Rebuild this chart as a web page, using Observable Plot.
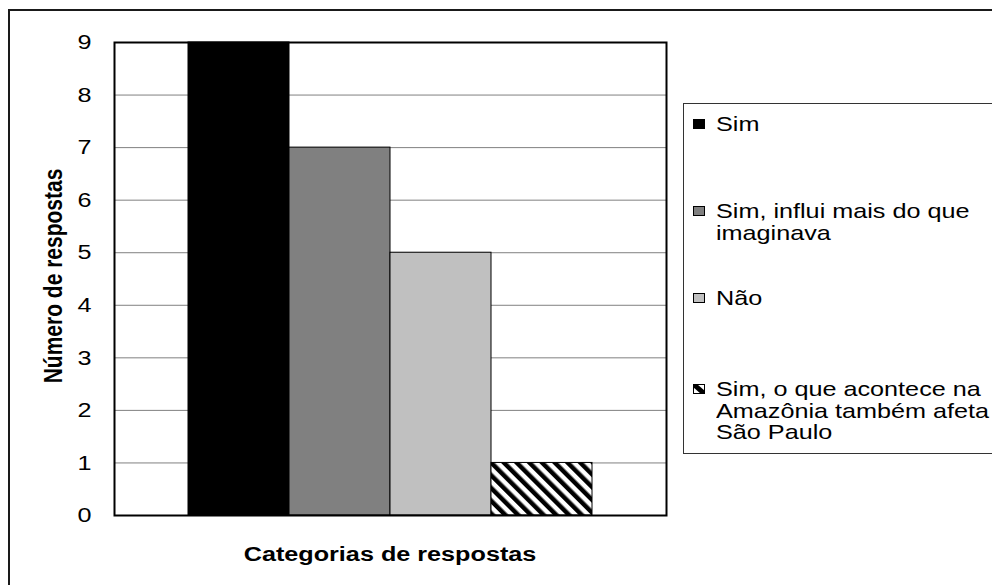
<!DOCTYPE html>
<html>
<head>
<meta charset="utf-8">
<script src="https://cdn.jsdelivr.net/npm/d3@7"></script>
<script src="https://cdn.jsdelivr.net/npm/@observablehq/plot@0.6"></script>
<style>
  html, body { margin: 0; padding: 0; background: #fff; overflow: hidden; width: 992px; height: 585px; }
  #wrap { position: relative; width: 992px; height: 585px; overflow: hidden; font-family: "Liberation Sans", Arial, sans-serif; color: #000; }
  #outer { position: absolute; left: 8px; top: 9px; width: 1010px; height: 620px; border: 2px solid #1a1a1a; box-sizing: border-box; }
  #chart { position: absolute; left: 0; top: 0; }
  #legend { position: absolute; left: 683px; top: 103px; width: 340px; height: 351px; border: 1.5px solid #333; box-sizing: border-box; background: #fff; }
  .item { position: absolute; left: 0; width: 330px; }
  .sw { position: absolute; left: 9px; top: 6px; width: 12px; height: 10px; box-sizing: border-box; border: 1px solid #000; }
  .lab { position: absolute; left: 32px; top: 0; width: 240px; font-size: 21px; line-height: 21.5px; transform: scaleX(1.2); transform-origin: 0 0; white-space: normal; }
</style>
</head>
<body>
<div id="wrap">
  <div id="outer"></div>
  <div id="chart"></div>
  <div id="legend"></div>
</div>
<script>
// ---- data ----
const categories = [
  "Sim",
  "Sim, influi mais do que imaginava",
  "Não",
  "Sim, o que acontece na Amazônia também afeta São Paulo"
];
const values = [9, 7, 5, 1];
const yTicks = [0, 1, 2, 3, 4, 5, 6, 7, 8, 9];
const fills = ["#000000", "#808080", "#c0c0c0", "url(#hatch)"];
const xTitle = "Categorias de respostas";
const yTitle = "Número de respostas";

const data = categories.map((c, i) => ({ category: c, value: values[i] }));

const chart = Plot.plot({
  width: 992,
  height: 585,
  marginLeft: 114,
  marginRight: 326,
  marginTop: 42,
  marginBottom: 70,
  style: { fontFamily: "'Liberation Sans', Arial, sans-serif", fontSize: "21px", color: "#000", background: "transparent", overflow: "visible" },
  x: { type: "band", domain: categories, paddingInner: 0, paddingOuter: 0.73, tickSize: 0, tickFormat: () => "", label: xTitle, labelAnchor: "center", labelArrow: "none" },
  y: { domain: [0, 9], ticks: yTicks, tickSize: 0, tickPadding: 23, label: yTitle, labelAnchor: "center", labelArrow: "none" },
  color: { type: "ordinal", domain: categories, range: fills },
  marks: [
    Plot.gridY(yTicks, { stroke: "#808080", strokeOpacity: 1, strokeWidth: 1 }),
    Plot.barY(data, { x: "category", y: "value", fill: "category", stroke: "#000", strokeWidth: 1 }),
    Plot.frame({ stroke: "#000", strokeWidth: 2 })
  ]
});

// hatch pattern
const svg = d3.select(chart);
const defs = svg.insert("defs", ":first-child");
const pat = defs.append("pattern")
  .attr("id", "hatch").attr("patternUnits", "userSpaceOnUse")
  .attr("width", 9).attr("height", 9)
  .attr("patternTransform", "rotate(-45)");
pat.append("rect").attr("width", 9).attr("height", 9).attr("fill", "#fff");
pat.append("rect").attr("width", 4.5).attr("height", 9).attr("fill", "#000");

// horizontal stretch of text to match reference rendering
function stretch(el, sx, sy) {
  const t = el.getAttribute("transform");
  let base;
  if (t) base = t;
  else {
    const x = +el.getAttribute("x") || 0, y = +el.getAttribute("y") || 0;
    el.removeAttribute("x"); el.removeAttribute("y");
    base = `translate(${x},${y})`;
  }
  el.setAttribute("transform", `${base} scale(${sx},${sy})`);
}
svg.selectAll('g[aria-label="y-axis tick label"] text').each(function () {
  d3.select(this).style("font-size", "21px");
  stretch(this, 1.2, 1);
});

// axis titles
svg.selectAll('g[aria-label="x-axis label"] text').each(function () {
  const s = d3.select(this);
  s.attr("x", null).attr("y", null).attr("dy", null)
   .attr("text-anchor", "middle")
   .style("font-weight", "bold").style("font-size", "21px")
   .attr("transform", "translate(390,561) scale(1.2,1)");
  s.selectAll("tspan").attr("dy", null).attr("x", null).attr("y", null);
});
svg.selectAll('g[aria-label="y-axis label"] text').each(function () {
  const s = d3.select(this);
  s.attr("x", null).attr("y", null).attr("dy", null)
   .attr("text-anchor", "middle")
   .style("font-weight", "bold").style("font-size", "21px")
   .attr("transform", "translate(62,276) rotate(-90) scale(1,1.2)");
  s.selectAll("tspan").attr("dy", null).attr("x", null).attr("y", null);
});
svg.selectAll('g[aria-label="x-axis label"], g[aria-label="y-axis label"]').attr("transform", null);

document.getElementById("chart").appendChild(chart);

// legend
const itemTops = [9, 96, 183, 274];
const legend = d3.select("#legend");
categories.forEach((c, i) => {
  const it = legend.append("div").attr("class", "item").style("top", itemTops[i] + "px");
  if (i < 3) {
    it.append("div").attr("class", "sw").style("background", fills[i]);
  } else {
    const s = it.append("svg").attr("width", 12).attr("height", 10)
      .style("position", "absolute").style("left", "9px").style("top", "6px");
    s.append("rect").attr("x", 0.5).attr("y", 0.5).attr("width", 11).attr("height", 9).attr("fill", "#fff").attr("stroke", "#000");
    s.append("polygon").attr("points", "0,0 4,0 12,7 12,10 8,10 0,3").attr("fill", "#000");
  }
  it.append("div").attr("class", "lab").text(c);
});
</script>
</body>
</html>
